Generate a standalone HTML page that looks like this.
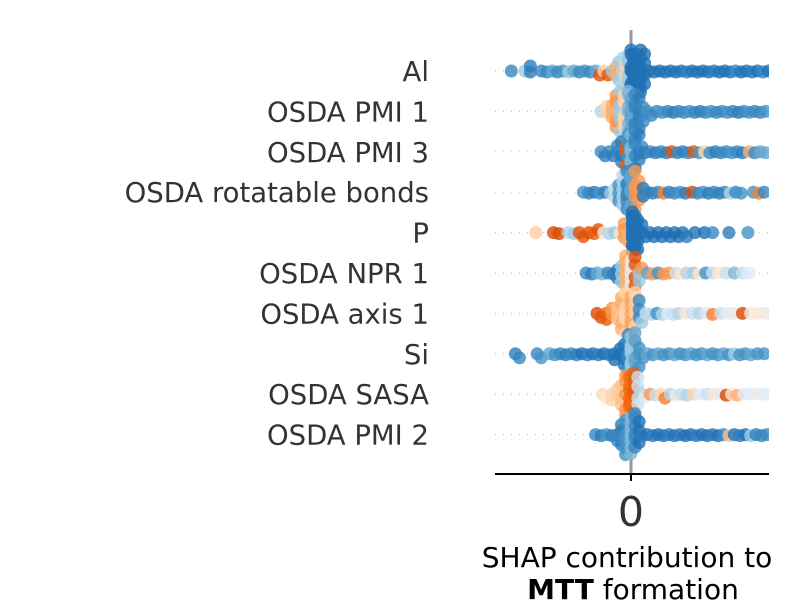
<!DOCTYPE html>
<html><head><meta charset="utf-8"><style>
html,body{margin:0;padding:0;background:#fff;}
svg{display:block;font-family:"DejaVu Sans","Liberation Sans",sans-serif;}
</style></head><body>
<svg id="chart" width="800" height="600" viewBox="0 0 800 600">
<defs><clipPath id="clip"><rect x="480" y="20" width="289" height="470"/></clipPath></defs>
<line x1="631" y1="30" x2="631" y2="474" stroke="#999" stroke-width="3"/>
<g id="grid"></g>
<g id="pts" clip-path="url(#clip)"></g>
<g id="labels"></g>
<line x1="495" y1="474" x2="769" y2="474" stroke="#000" stroke-width="2"/>
<line x1="631" y1="474" x2="631" y2="481" stroke="#000" stroke-width="2"/>
<text id="tick0" x="631" y="526" text-anchor="middle" font-size="41" fill="#333">0</text>
<text x="627" y="567" text-anchor="middle" font-size="28" fill="#000">SHAP contribution to</text>
<text x="633" y="599" text-anchor="middle" font-size="28" fill="#000"><tspan font-weight="bold">MTT</tspan> formation</text>
</svg>
<script>
const features = ["Al","OSDA PMI 1","OSDA PMI 3","OSDA rotatable bonds","P","OSDA NPR 1","OSDA axis 1","Si","OSDA SASA","OSDA PMI 2"];
const xDomain = [-1, 1.015];
const xTicks = [0];
// each entry: [shap value, feature value (0..1), count]
const rowAl = [[-0.88,0.1,1],[-0.78,0.3,1],[-0.74,0.05,2],[-0.66,0.1,1],[-0.62,0.1,1],[-0.58,0.2,1],[-0.54,0.1,1],[-0.5,0.15,1],[-0.46,0.3,1],[-0.42,0.2,1],[-0.38,0.1,1],[-0.34,0.15,1],[-0.3,0.1,1],[-0.26,0.2,1],[-0.23,0.95,1],[-0.2,0.6,1],[-0.17,0.95,1],[-0.14,0.3,1],[-0.11,0.7,2],[-0.09,0.3,2],[-0.06,0.35,3],[-0.04,0.6,3],[-0.02,0.3,5],[0,0,8],[0.02,0,10],[0.04,0,10],[0.07,0,7],[0.1,0,4],[0.13,0,1],[0.17,0,1],[0.21,0,1],[0.25,0,1],[0.29,0,1],[0.33,0,1],[0.37,0,1],[0.41,0.05,1],[0.45,0,1],[0.49,0,1],[0.53,0,1],[0.57,0,1],[0.61,0.05,1],[0.65,0,1],[0.69,0,1],[0.73,0,1],[0.77,0.1,1],[0.81,0,1],[0.85,0,1],[0.89,0.05,1],[0.93,0,1],[0.97,0.1,1],[1.01,0,1]];
const rowPmi1 = [[-0.22,0.35,1],[-0.18,0.6,2],[-0.14,0.7,3],[-0.11,0.75,4],[-0.08,0.3,5],[-0.05,0.6,6],[-0.02,0.25,7],[0,0.2,7],[0.03,0.1,6],[0.06,0.05,4],[0.09,0.1,2],[0.12,0.15,1],[0.15,0.1,1],[0.19,0.1,1],[0.23,0.15,1],[0.27,0.1,1],[0.31,0.05,1],[0.35,0.1,1],[0.39,0.1,1],[0.43,0.15,1],[0.47,0.1,1],[0.51,0.05,1],[0.55,0.1,1],[0.59,0.15,1],[0.63,0.1,1],[0.67,0.1,1],[0.71,0.15,1],[0.75,0.1,1],[0.79,0.05,1],[0.83,0.1,1],[0.87,0.15,1],[0.91,0.1,1],[0.95,0.1,1],[0.99,0.15,1]];
const rowPmi3 = [[-0.22,0.1,1],[-0.19,0.05,1],[-0.16,0.1,1],[-0.13,0.05,1],[-0.1,0.1,2],[-0.07,0.05,3],[-0.04,0.9,3],[-0.02,0.15,6],[0,0.25,7],[0.03,0.1,6],[0.06,0.05,3],[0.08,0.1,1],[0.1,0.05,1],[0.14,0.1,1],[0.18,0.05,1],[0.22,0.1,1],[0.26,0.05,1],[0.3,0.95,1],[0.34,0.1,1],[0.38,0.05,1],[0.42,0.1,1],[0.46,0.95,1],[0.5,0.15,1],[0.54,0.6,1],[0.58,0.1,1],[0.62,0.05,1],[0.66,0.1,1],[0.7,0.1,1],[0.74,0.15,1],[0.78,0.1,1],[0.82,0.05,1],[0.87,0.7,1],[0.91,0.1,1],[0.95,0.2,1],[0.99,0.2,1]];
const rowRot = [[-0.35,0.15,1],[-0.31,0.1,1],[-0.27,0.05,1],[-0.23,0.15,1],[-0.19,0.05,1],[-0.15,0.3,1],[-0.12,0.4,2],[-0.09,0.15,3],[-0.06,0.35,5],[-0.03,0.1,7],[0,0.2,7],[0.03,0.75,5],[0.06,0.75,3],[0.09,0.05,2],[0.12,0.1,1],[0.16,0.05,1],[0.2,0.1,1],[0.24,0.8,1],[0.28,0.05,1],[0.32,0.1,1],[0.36,0.15,1],[0.4,0.05,1],[0.45,1,1],[0.49,0.1,1],[0.53,0.15,1],[0.57,0.05,1],[0.61,0.1,1],[0.65,0.05,1],[0.69,0.1,1],[0.73,0.35,1],[0.77,0.1,1],[0.81,0.15,1],[0.9,0.15,1],[0.94,0.8,1],[0.98,0.1,1]];
const rowP = [[-0.7,0.62,1],[-0.57,1,1],[-0.53,1,1],[-0.46,0.35,1],[-0.42,0.3,1],[-0.38,0.95,1],[-0.35,0.95,1],[-0.31,0.95,1],[-0.27,0.9,1],[-0.24,0.95,1],[-0.2,0.5,1],[-0.16,0.35,1],[-0.12,0.3,1],[-0.08,0.55,1],[-0.05,0.75,3],[-0.02,0.7,2],[0.01,0,12],[0.03,0,10],[0.05,0,4],[0.08,0,2],[0.11,0,1],[0.14,0,1],[0.17,0,1],[0.2,0,1],[0.23,0,1],[0.26,0,1],[0.29,0,1],[0.32,0,1],[0.35,0,1],[0.38,0,1],[0.41,0.05,1],[0.47,0,1],[0.54,0,1],[0.6,0.1,1],[0.72,0.05,1],[0.86,0.15,1]];
const rowNpr = [[-0.33,0.1,1],[-0.29,0.05,1],[-0.25,0.2,1],[-0.21,0.25,1],[-0.17,0.1,1],[-0.13,0.05,1],[-0.1,0.05,2],[-0.07,0.3,3],[-0.04,0.7,5],[0,0.5,6],[0.03,0.95,4],[0.06,0.3,2],[0.08,0.75,1],[0.12,0.2,1],[0.16,0.75,1],[0.2,0.15,1],[0.24,0.75,1],[0.28,0.75,1],[0.33,0.4,1],[0.37,0.55,1],[0.41,0.35,1],[0.46,0.3,1],[0.5,0.55,1],[0.55,0.15,1],[0.6,0.4,1],[0.65,0.55,1],[0.7,0.4,1],[0.76,0.25,1],[0.82,0.4,1],[0.87,0.45,1]];
const rowAxis = [[-0.25,1,1],[-0.22,0.95,1],[-0.18,0.9,2],[-0.14,0.75,2],[-0.1,0.65,3],[-0.07,0.7,4],[-0.04,0.6,6],[0,0.72,7],[0.03,0.6,5],[0.06,0.1,3],[0.08,0.3,1],[0.11,0.4,1],[0.15,0.35,1],[0.19,0.15,1],[0.23,0.35,1],[0.27,0.45,1],[0.31,0.4,1],[0.35,0.35,1],[0.4,0.55,1],[0.45,0.4,1],[0.5,0.35,1],[0.56,0.45,1],[0.6,0.8,1],[0.66,0.4,1],[0.71,0.45,1],[0.76,0.5,1],[0.82,1,1],[0.88,0.5,1],[0.94,0.55,1],[0.99,0.5,1]];
const rowSi = [[-0.85,0.05,1],[-0.82,0.1,1],[-0.69,0.1,1],[-0.66,0.15,1],[-0.6,0.2,1],[-0.56,0.15,1],[-0.52,0.1,1],[-0.48,0.05,1],[-0.44,0.1,1],[-0.4,0.05,1],[-0.36,0,1],[-0.32,0.05,1],[-0.28,0,1],[-0.24,0.05,1],[-0.2,0,1],[-0.16,0.05,1],[-0.12,0,2],[-0.08,0,2],[-0.05,0,3],[-0.02,0.1,6],[0,0.3,7],[0.03,0.2,6],[0.06,0.15,3],[0.09,0.15,1],[0.12,0.2,1],[0.16,0.15,1],[0.2,0.2,1],[0.24,0.15,1],[0.28,0.15,1],[0.32,0.2,1],[0.36,0.15,1],[0.4,0.15,1],[0.44,0.2,1],[0.48,0.15,1],[0.52,0.15,1],[0.56,0.2,1],[0.6,0.15,1],[0.64,0.15,1],[0.68,0.2,1],[0.72,0.15,1],[0.76,0.3,1],[0.8,0.15,1],[0.84,0.15,1],[0.88,0.2,1],[0.93,0.15,1],[0.98,0.15,1]];
const rowSasa = [[-0.21,0.58,1],[-0.18,0.55,1],[-0.14,0.6,2],[-0.1,0.62,2],[-0.07,0.65,3],[-0.04,0.75,5],[-0.01,0.85,7],[0.02,0.9,6],[0.05,0.4,4],[0.07,0.35,1],[0.1,0.45,1],[0.14,0.75,1],[0.18,0.4,1],[0.22,0.6,1],[0.25,0.8,1],[0.29,0.35,1],[0.33,0.5,1],[0.37,0.4,1],[0.41,0.35,1],[0.46,0.6,1],[0.51,0.45,1],[0.56,0.4,1],[0.61,0.55,1],[0.66,0.45,1],[0.7,1,1],[0.74,0.55,1],[0.78,0.7,1],[0.83,0.45,1],[0.88,0.45,1],[0.94,0.5,1],[0.99,0.45,1]];
const rowPmi2 = [[-0.26,0.1,1],[-0.22,0.05,1],[-0.18,0.15,1],[-0.14,0.05,1],[-0.1,0.1,2],[-0.07,0.05,3],[-0.04,0.15,5],[0,0.25,7],[0.03,0.1,6],[0.06,0,3],[0.08,0.05,1],[0.12,0,1],[0.16,0.05,1],[0.2,0,1],[0.24,0,1],[0.28,0.05,1],[0.32,0,1],[0.36,0.05,1],[0.4,0,1],[0.44,0,1],[0.48,0.05,1],[0.52,0,1],[0.56,0,1],[0.6,0.05,1],[0.64,0,1],[0.68,0.1,1],[0.72,0.65,1],[0.76,0,1],[0.8,0.05,1],[0.84,0,1],[0.88,0.3,1],[0.92,0.05,1],[0.96,0.1,1],[1.0,0.1,1]];
const rows = [rowAl,rowPmi1,rowPmi3,rowRot,rowP,rowNpr,rowAxis,rowSi,rowSasa,rowPmi2];

const NS = "http://www.w3.org/2000/svg";
const X0 = 495, X1 = 769, Y0 = 71, DY = 40.4;
function xScale(v){ return X0 + (v - xDomain[0]) / (xDomain[1] - xDomain[0]) * (X1 - X0); }
function yRow(i){ return Y0 + i * DY; }
const stops = [[0,[33,113,181]],[0.15,[66,146,198]],[0.3,[158,202,225]],[0.45,[222,235,247]],[0.55,[254,230,206]],[0.7,[253,174,107]],[0.85,[241,105,19]],[1,[217,72,1]]];
function color(c){
  for (let k=1;k<stops.length;k++){
    if (c <= stops[k][0]){
      const a=stops[k-1], b=stops[k], t=(c-a[0])/(b[0]-a[0]);
      const m=a[1].map((q,j)=>Math.round(q+(b[1][j]-q)*t));
      return "rgb("+m.join(",")+")";
    }
  }
  return "rgb(217,72,1)";
}
const grid = document.getElementById("grid");
const pts = document.getElementById("pts");
const labels = document.getElementById("labels");
document.getElementById("tick0").setAttribute("x", xScale(xTicks[0]));
const DMIN = 5.5, CAP = 21, R = 6.5;
features.forEach((f,i)=>{
  const y = yRow(i);
  const g = document.createElementNS(NS,"line");
  
  
  g.setAttribute("x1",X0); g.setAttribute("x2",X1); g.setAttribute("y1",y); g.setAttribute("y2",y);
  g.setAttribute("stroke","#bbb"); g.setAttribute("stroke-width","1"); g.setAttribute("stroke-dasharray","1 7");
  grid.appendChild(g);
  const t = document.createElementNS(NS,"text");
  
  
  t.setAttribute("x",429); t.setAttribute("y",y+10); t.setAttribute("text-anchor","end");
  t.setAttribute("font-size","27.5"); t.setAttribute("fill","#333");
  t.textContent = f;
  labels.appendChild(t);
  const placed = [];
  let alt = 0;
  rows[i].forEach(([v,c,n])=>{
    const px = xScale(v);
    for (let k=0;k<n;k++){
      let off = null;
      for (let s=0; s<=CAP; s+=1){
        const cands = s===0 ? [0] : [s,-s];
        for (const o of cands){
          if (placed.every(p => (p[0]-px)*(p[0]-px)+(p[1]-o)*(p[1]-o) >= DMIN*DMIN)){ off = o; break; }
        }
        if (off !== null) break;
      }
      if (off === null){ alt++; off = (alt%2 ? CAP : -CAP) * ((alt%5)/5); }
      placed.push([px,off]);
      const p = document.createElementNS(NS,"circle");
      
      
      p.setAttribute("cx",px); p.setAttribute("cy",y+off); p.setAttribute("r",R);
      p.setAttribute("fill",color(c)); p.setAttribute("fill-opacity","0.8");
      pts.appendChild(p);
    }
  });
});
</script>
</body></html>
